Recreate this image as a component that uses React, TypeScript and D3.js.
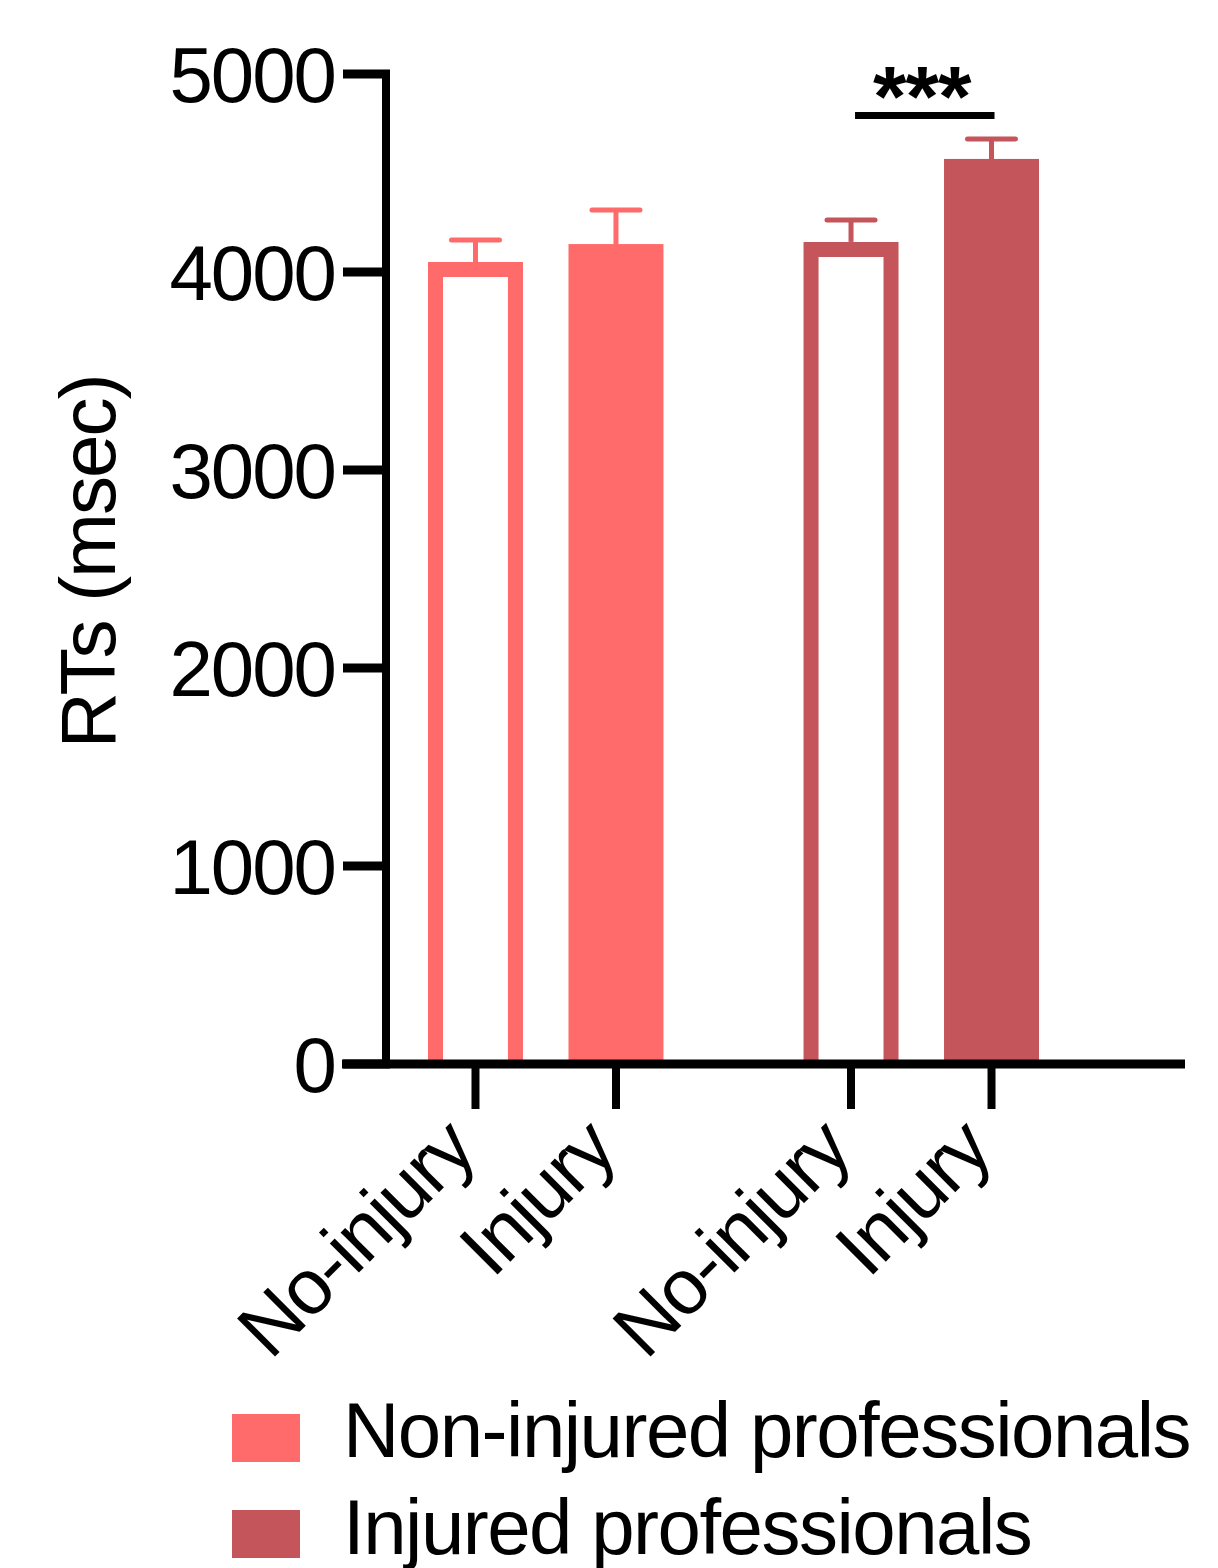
import React from "react";
import * as d3 from "d3";

const groups = ["Non-injured professionals", "Injured professionals"];
const conditions = ["No-injury", "Injury"];
const groupColors = ["#FF6A6B", "#C4555A"];
// means and SEM per group, per condition
const nonInjuredMeans = [4050, 4141];
const nonInjuredErrors = [112, 172];
const injuredMeans = [4152, 4571];
const injuredErrors = [111, 101];
const yTicks = [0, 1000, 2000, 3000, 4000, 5000];
const sigLabel = "***";
const sigLevel = 4790;
const yTitle = "RTs (msec)";

const FONT = "'Liberation Sans', Arial, Helvetica, sans-serif";

export default function App() {
  const W = 1218;
  const H = 1568;
  const y = d3.scaleLinear().domain([0, 5000]).range([1064, 74]);
  const gx = d3.scaleBand<string>().domain(groups).range([428, 1039]).paddingInner(0.373).paddingOuter(0);
  const cx = d3
    .scaleBand<string>()
    .domain(conditions)
    .range([0, gx.bandwidth()])
    .paddingInner(0.324)
    .paddingOuter(0);

  const means = [nonInjuredMeans, injuredMeans];
  const errs = [nonInjuredErrors, injuredErrors];

  const bars: any[] = [];
  groups.forEach((g, gi) => {
    conditions.forEach((c, ci) => {
      const x0 = (gx(g) as number) + (cx(c) as number);
      bars.push({
        g,
        c,
        gi,
        ci,
        x0,
        w: cx.bandwidth(),
        mean: means[gi][ci],
        err: errs[gi][ci],
        color: groupColors[gi],
        center: x0 + cx.bandwidth() / 2,
      });
    });
  });

  const sw = 15;
  const sigA = bars[2].center + 4;
  const sigB = bars[3].center + 3;

  return (
    <svg width={W} height={H} style={{ display: "block", position: "absolute", left: 0, top: 0 }} fontFamily={FONT}>
      <rect width={W} height={H} fill="#fff" />
      {/* bars */}
      {bars.map((b, i) => {
        const top = y(b.mean);
        const bottom = y(0) - 2;
        const capY = y(b.mean + b.err);
        const p = d3.path();
        p.moveTo(b.x0 + sw / 2, bottom);
        p.lineTo(b.x0 + sw / 2, top + sw / 2);
        p.lineTo(b.x0 + b.w - sw / 2, top + sw / 2);
        p.lineTo(b.x0 + b.w - sw / 2, bottom);
        return (
          <g key={i}>
            <line x1={b.center} x2={b.center} y1={top + 2} y2={capY} stroke={b.color} strokeWidth={5} />
            <line
              x1={b.center - 24}
              x2={b.center + 24}
              y1={capY}
              y2={capY}
              stroke={b.color}
              strokeWidth={5}
              strokeLinecap="round"
            />
            {b.ci === 0 ? (
              <g>
                <rect x={b.x0} y={top} width={b.w} height={bottom - top} fill="#fff" />
                <path d={p.toString()} fill="none" stroke={b.color} strokeWidth={sw} strokeLinejoin="miter" />
              </g>
            ) : (
              <rect x={b.x0} y={top} width={b.w} height={bottom - top} fill={b.color} />
            )}
          </g>
        );
      })}
      {/* y axis */}
      <line x1={386} x2={386} y1={y(5000) - 4} y2={y(0) + 4} stroke="#000" strokeWidth={8} />
      {yTicks.map((t) => (
        <g key={t}>
          <line x1={343} x2={390} y1={y(t)} y2={y(t)} stroke="#000" strokeWidth={9} />
          <text
            x={335}
            y={y(t) + 28}
            textAnchor="end"
            fontSize={78}
            letterSpacing={-2}
            fill="#000"
          >
            {t}
          </text>
        </g>
      ))}
      {/* x axis */}
      <line x1={342} x2={1185} y1={y(0)} y2={y(0)} stroke="#000" strokeWidth={9} />
      {bars.map((b, i) => (
        <g key={"t" + i}>
          <line x1={b.center} x2={b.center} y1={y(0)} y2={1109} stroke="#000" strokeWidth={8} />
          <text
            transform={`translate(${b.center + 3},1153) rotate(-45)`}
            textAnchor="end"
            fontSize={78}
            letterSpacing={-2}
            fill="#000"
          >
            {b.c}
          </text>
        </g>
      ))}
      {/* y title */}
      <text
        transform={`translate(115,562) rotate(-90)`}
        textAnchor="middle"
        fontSize={78}
        letterSpacing={-2}
        fill="#000"
      >
        {yTitle}
      </text>
      {/* significance */}
      <line x1={sigA} x2={sigB} y1={y(sigLevel)} y2={y(sigLevel)} stroke="#000" strokeWidth={7} />
      <text
        x={(sigA + sigB) / 2 - 3}
        y={126}
        textAnchor="middle"
        fontSize={86}
        fontWeight="bold"
        letterSpacing={-1}
        fill="#000"
      >
        {sigLabel}
      </text>
      {/* legend */}
      {groups.map((g, i) => (
        <g key={g}>
          <rect x={232} y={1414 + i * 96} width={68} height={48} fill={groupColors[i]} />
          <text x={343} y={1457 + i * 97} fontSize={78} letterSpacing={-1.5} fill="#000">
            {g}
          </text>
        </g>
      ))}
    </svg>
  );
}
